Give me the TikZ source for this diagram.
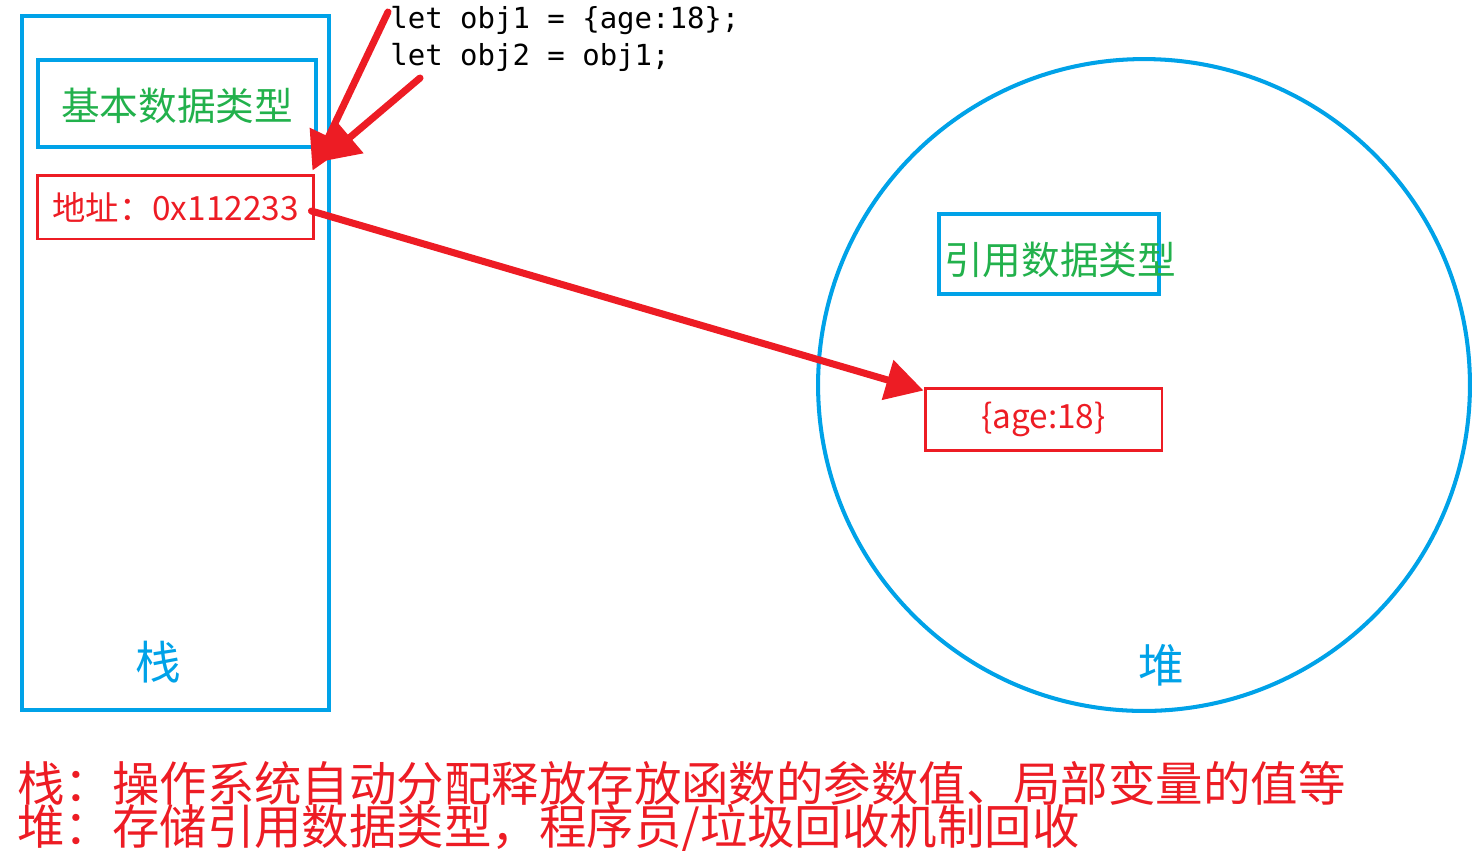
\documentclass[tikz,border=0pt]{standalone}
\usepackage{fontspec}
\usetikzlibrary{arrows.meta}
\newfontfamily\cjk{Noto Sans CJK SC}
\newfontfamily\code{DejaVu Sans Mono}
\definecolor{sky}{RGB}{0,162,232}
\definecolor{rd}{RGB}{237,28,36}
\definecolor{grn}{RGB}{34,177,76}
\tikzset{
  frame/.style={draw=sky,line width=2.3pt,inner sep=0pt},
  cell/.style={draw=sky,line width=2.3pt,minimum width=5.56cm,minimum height=1.74cm,inner sep=0pt},
  mem/.style={draw=rd,line width=1.7pt,inner sep=0pt,font=\cjk\fontsize{19}{22}\selectfont,text=rd},
  kind/.style={font=\cjk\fontsize{22}{26}\selectfont,text=grn,inner sep=0pt},
  arr/.style={draw=rd,line width=4pt,line cap=round,-{Triangle[length=7.5mm,width=8mm]}},
  big/.style={font=\cjk\fontsize{26}{30}\selectfont,text=sky},
  note/.style={font=\cjk\fontsize{27}{30}\selectfont,text=rd,anchor=west,inner sep=0pt}
}
\begin{document}
\begin{tikzpicture}[x=0.02cm,y=-0.02cm]
\useasboundingbox (0,0) rectangle (1476,850);
% stack
\node[frame,minimum width=6.14cm,minimum height=13.88cm] (stk) at (175.5,363) {};
\node[cell] (basic) at (177,103.5) {};
\node[kind] (basict) at (177,106) {基本数据类型};
\node[mem,minimum width=5.54cm,minimum height=1.28cm] (addr) at (175.5,207) {地址：0x112233};
\node[big] (stkt) at (158,662) {栈};
% heap
\node[frame,circle,minimum size=13.04cm] (heap) at (1144,385) {};
\node[cell,minimum width=4.4cm,minimum height=1.6cm] (ref) at (1049,254) {};
\node[kind] (reft) at (1060,260) {引用数据类型};
\node[mem,minimum width=4.74cm,minimum height=1.24cm] (obj) at (1043.5,419) {\{age:18\}};
\node[big] (heapt) at (1161,665) {堆};
% code
\node[font=\code\fontsize{16.5}{21}\selectfont,anchor=north west,align=left,inner sep=0pt] (src) at (390,6)
  {let obj1 = \{age:18\};\\let obj2 = obj1;};
\coordinate (s1) at (388,12);
\coordinate (s2) at (420,78);
\draw[arr] (s1) -- ([shift={(-3,-3)}]addr.north east);
\draw[arr] (s2) -- ([shift={(6,-12)}]addr.north east);
\draw[arr] ([shift={(-4,4)}]addr.east) -- ([shift={(0,4)}]obj.north west);
% notes
\node[note] (n1) at (17,783) {栈：操作系统自动分配释放存放函数的参数值、局部变量的值等};
\node[note] (n2) at (17,829) {堆：存储引用数据类型，程序员/垃圾回收机制回收};
\end{tikzpicture}
\end{document}
